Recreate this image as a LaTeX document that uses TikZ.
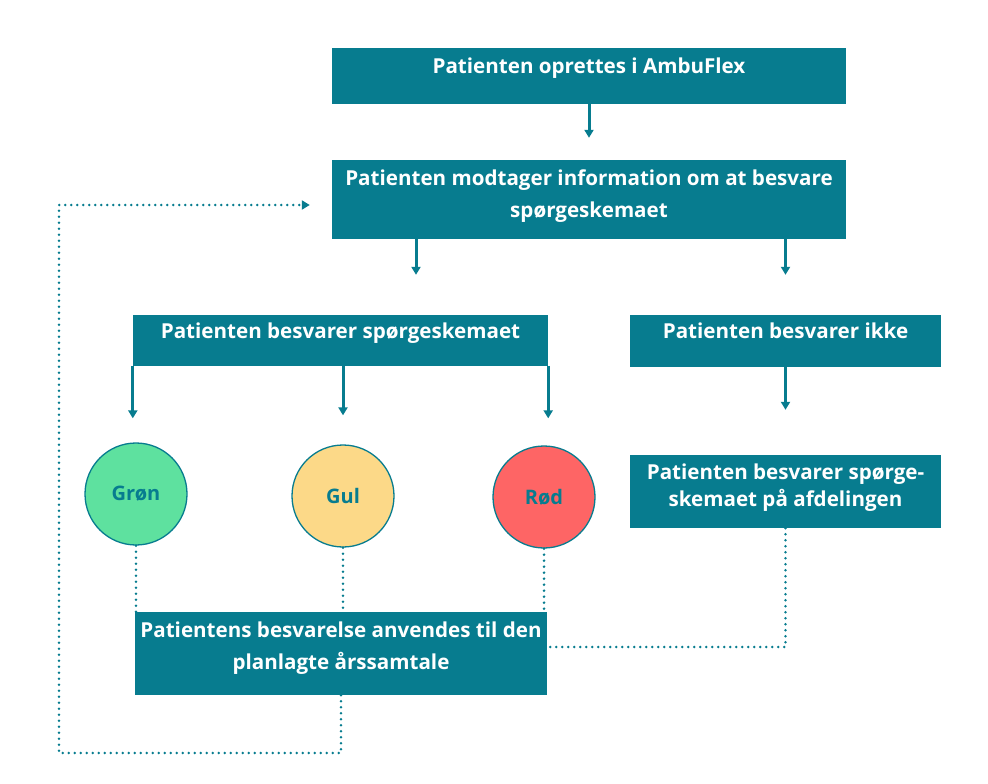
\documentclass[tikz,border=0pt]{standalone}
\usepackage{fontspec}
\usepackage{tikz}
\usetikzlibrary{arrows.meta}
\setmainfont{Open Sans}
\definecolor{ambuteal}{HTML}{077C8F}
\definecolor{groenfill}{HTML}{5EE19F}
\definecolor{gulfill}{HTML}{FCD988}
\definecolor{roedfill}{HTML}{FE6565}
\tikzset{
	box/.style={rectangle, fill=ambuteal, inner sep=0pt},
	boxtxt/.style={anchor=north, yshift=-10pt, inner sep=0pt, text=white, align=center, font=\bfseries\fontsize{20.6}{32}\selectfont},
	light/.style={circle, draw=ambuteal, line width=1.3pt, minimum size=102pt, inner sep=0pt, text=ambuteal, font=\bfseries\fontsize{20}{24}\selectfont},
	arr/.style={draw=ambuteal, line width=3pt, -{Triangle[width=9pt,length=8pt]}},
	dots/.style={draw=ambuteal, line width=2.8pt, line cap=round, dash pattern=on 0pt off 6pt}
}
\begin{document}
\begin{tikzpicture}[x=1pt, y=-1pt]
			\useasboundingbox (0,0) rectangle (988,784);
			\node [box, minimum width=514pt, minimum height=56pt, label={[boxtxt]north:Patienten oprettes i AmbuFlex}] (opret) at (589,76) {};
			\node [box, minimum width=514pt, minimum height=79pt, label={[boxtxt]north:Patienten modtager information om at besvare\\spørgeskemaet}] (info) at (589,199.5) {};
			\node [box, minimum width=415pt, minimum height=51pt, label={[boxtxt, yshift=2pt]north:Patienten besvarer spørgeskemaet}] (besvar) at (340.5,340.5) {};
			\node [box, minimum width=311pt, minimum height=52pt, label={[boxtxt, yshift=2pt]north:Patienten besvarer ikke}] (ikke) at (785.5,341) {};
			\node [light, fill=groenfill] (groen) at (136,494) {Grøn};
			\node [light, fill=gulfill] (gul) at (343,496) {Gul};
			\node [light, fill=roedfill] (roed) at (544,497) {Rød};
			\node [box, minimum width=311pt, minimum height=73pt, label={[boxtxt, yshift=1pt, font=\bfseries\fontsize{20.6}{27}\selectfont]north:Patienten besvarer spørge-\\skemaet på afdelingen}] (afd) at (785.5,491.5) {};
			\node [box, minimum width=412pt, minimum height=83pt, label={[boxtxt]north:Patientens besvarelse anvendes til den\\planlagte årssamtale}] (svar) at (341,653.5) {};
			\coordinate (loop) at (59,753);
			\coordinate (back) at ([xshift=-22pt, yshift=-5.5pt]info.west);
			\coordinate (venstre) at (416,0);
			\draw [arr, shorten >=22pt] (opret.south) -- (info.north);
			\draw [arr, shorten >=40pt] (info.south -| venstre) -- (besvar.north -| venstre);
			\draw [arr, shorten >=40pt] (info.south -| ikke.north) -- (ikke.north);
			\draw [arr, shorten >=24pt] (besvar.south west) -- (besvar.south west |- groen.north);
			\draw [arr, shorten >=29pt] (gul.north |- besvar.south) -- (gul.north);
			\draw [arr, shorten >=27pt] (besvar.south east) -- (besvar.south east |- roed.north);
			\draw [arr, shorten >=45pt] (ikke.south) -- (afd.north);
			\draw [dots] (groen.south) -- (groen.south |- svar.north);
			\draw [dots] (gul.south) -- (gul.south |- svar.north);
			\draw [dots] (roed.south) -- (roed.south |- svar.north);
			\draw [dots] (afd.south) |- ([yshift=6.5pt]svar.east);
			\draw [dots, -{Triangle[width=9pt,length=8pt]}] (svar.south) -- (svar.south |- loop) -- (loop) |- (back);
		\end{tikzpicture}
\end{document}
